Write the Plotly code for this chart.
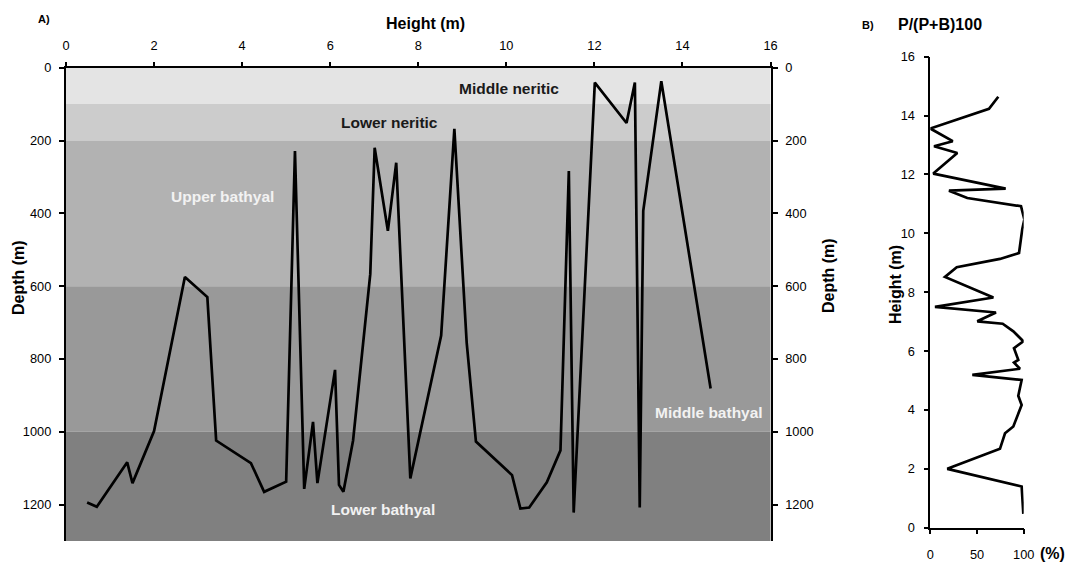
import plotly.graph_objects as go

W, H = 1066, 565

# ---- Panel A data: Height (m) vs Depth (m)
height_a = [0.48, 0.70, 1.39, 1.51, 2.00, 2.70, 3.21, 3.41, 4.20, 4.50, 5.00, 5.20, 5.41, 5.61,
            5.71, 6.11, 6.20, 6.30, 6.52, 6.91, 7.01, 7.31, 7.50, 7.82, 8.52, 8.82, 9.10, 9.31,
            10.13, 10.32, 10.52, 10.92, 11.23, 11.42, 11.53, 12.01, 12.73, 12.92, 13.03, 13.11,
            13.52, 14.64]
depth_a = [1194, 1206, 1084, 1141, 998, 575, 630, 1024, 1086, 1165, 1137, 229, 1157, 973,
           1141, 830, 1146, 1165, 1024, 567, 220, 448, 261, 1128, 736, 168, 755, 1027,
           1119, 1211, 1208, 1139, 1051, 284, 1222, 41, 152, 41, 1208, 393,
           37, 881]

# bathymetric zones
zone_names = ["Middle neritic", "Lower neritic", "Upper bathyal", "Middle bathyal", "Lower bathyal"]
zone_top = [0, 100, 200, 600, 1000]
zone_bottom = [100, 200, 600, 1000, 1300]
zone_colors = ["#e4e4e4", "#cccccc", "#b2b2b2", "#999999", "#808080"]
zone_label_x = [10.07, 7.34, 3.55, 14.61, 7.2]
zone_label_y = [56, 150, 354, 946, 1213]
zone_label_color = ["#1a1a1a", "#1a1a1a", "#f2f2f2", "#f2f2f2", "#f2f2f2"]

# ---- Panel B data: P/(P+B)100 (%) vs Height (m)
pct_b = [72.8, 62.8, 0, 24, 4, 28.9, 3.2, 80.7, 20, 39.6, 97.1, 100.7, 98.5, 95, 74.6, 28.3,
         15.7, 67.5, 5, 70.3, 50.3, 77.5, 88.9, 99.6, 89.6, 94.2, 89.6, 96, 45, 97.8, 94.2,
         97.8, 88.9, 80, 74.6, 18.2, 97.8, 99.6]
height_b = [14.64, 14.23, 13.56, 13.13, 12.96, 12.73, 12.03, 11.52, 11.45, 11.2, 10.92, 10.47,
            10.15, 9.33, 9.13, 8.85, 8.52, 7.82, 7.50, 7.31, 7.01, 6.93, 6.67, 6.33, 6.10, 5.70,
            5.61, 5.40, 5.19, 5.02, 4.48, 4.17, 3.44, 3.21, 2.68, 2.0, 1.40, 0.47]

FONT = "Liberation Sans, Arial, sans-serif"

fig = go.Figure()
fig.add_trace(go.Scatter(x=height_a, y=depth_a, mode="lines", xaxis="x", yaxis="y",
                         line=dict(color="black", width=2.7), showlegend=False, hoverinfo="skip"))
fig.add_trace(go.Scatter(x=[None], y=[None], mode="lines", xaxis="x", yaxis="y3",
                         showlegend=False, hoverinfo="skip"))
fig.add_trace(go.Scatter(x=pct_b, y=height_b, mode="lines", xaxis="x2", yaxis="y2",
                         line=dict(color="black", width=2.7), showlegend=False, hoverinfo="skip"))

def px_x(p):
    return p / W

def px_y(p):
    return 1 - p / H

shapes = []
for t, b, c in zip(zone_top, zone_bottom, zone_colors):
    shapes.append(dict(type="rect", xref="x domain", yref="y", x0=0, x1=1, y0=t, y1=b,
                       fillcolor=c, line=dict(width=0), layer="below"))

annotations = []
for n, lx, ly, lc in zip(zone_names, zone_label_x, zone_label_y, zone_label_color):
    annotations.append(dict(x=lx, y=ly, xref="x", yref="y", text="<b>" + n + "</b>",
                            showarrow=False, font=dict(family=FONT, size=15.5, color=lc)))

def txt(x, y, s, size=12, angle=0):
    return dict(x=px_x(x), y=px_y(y), xref="paper", yref="paper", text=s, showarrow=False,
                textangle=angle, font=dict(family=FONT, size=size, color="black"),
                xanchor="center", yanchor="middle")

annotations += [
    txt(44, 19, "<b>A)</b>", 11),
    txt(425, 23, "<b>Height (m)</b>", 16),
    txt(18, 278, "<b>Depth (m)</b>", 16, -90),
    txt(828, 276, "<b>Depth (m)</b>", 16, -90),
    txt(868, 25, "<b>B)</b>", 11),
    txt(940, 25, "<b>P/(P+B)100</b>", 16),
    txt(895, 285, "<b>Height (m)</b>", 16, -90),
    txt(1052, 553, "<b>(%)</b>", 16),
]

tickfont = dict(family=FONT, size=12.8, color="black")

common = dict(showgrid=False, zeroline=False, automargin=False, tickfont=tickfont,
              ticks="outside", tickcolor="black", showline=True, linecolor="black")

fig.update_layout(
    width=W, height=H, margin=dict(l=0, r=0, t=0, b=0, pad=0, autoexpand=False),
    paper_bgcolor="white", plot_bgcolor="rgba(0,0,0,0)",
    shapes=shapes, annotations=annotations,
    xaxis=dict(domain=[px_x(66), px_x(770.5)], range=[0, 16], side="top", dtick=2,
               linewidth=2.2, ticklen=4, tickwidth=2, ticklabelstandoff=6, anchor="y", **common),
    yaxis=dict(domain=[px_y(541), px_y(67.7)], range=[1300, 0],
               tickvals=[0, 200, 400, 600, 800, 1000, 1200],
               linewidth=2.2, ticklen=5, tickwidth=2, ticklabelstandoff=5, anchor="x", **common),
    yaxis3=dict(overlaying="y", side="right", range=[1300, 0],
                tickvals=[0, 200, 400, 600, 800, 1000, 1200],
                linewidth=2.2, ticklen=5, tickwidth=2, ticklabelstandoff=5, anchor="x", **common),
    xaxis2=dict(domain=[px_x(930.3), px_x(1023.7)], range=[0, 100], tickvals=[0, 50, 100],
                linewidth=1.5, ticklen=5, tickwidth=1.5, ticklabelstandoff=9, anchor="y2", **common),
    yaxis2=dict(domain=[px_y(527.7), px_y(56.7)], range=[0, 16], dtick=2,
                linewidth=1.5, ticklen=5, tickwidth=1.5, ticklabelstandoff=6, anchor="x2", **common),
)

fig.write_html("out.html", config={"displayModeBar": False},
               post_script="document.body.style.margin='0px';")
